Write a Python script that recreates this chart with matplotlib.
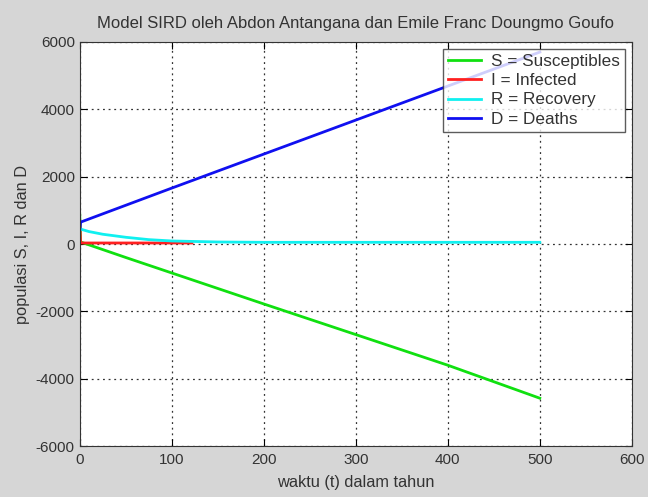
import matplotlib
matplotlib.use("Agg")
import matplotlib.pyplot as plt

plt.rcParams['font.family'] = ['Liberation Sans', 'DejaVu Sans']
plt.rcParams['axes.unicode_minus'] = False

# data
t_S = [0, 1, 50, 100, 200, 300, 400, 500]
S = [900, 60, -400, -860, -1780, -2690, -3600, -4580]

t_I = [0, 1, 122]
I = [700, 30, 30]

t_R = [0, 10, 25, 50, 75, 100, 150, 200, 500]
R = [450, 370, 290, 200, 130, 90, 60, 50, 50]

t_D = [0, 1, 100, 200, 300, 400, 500]
D = [400, 650, 1660, 2670, 3680, 4690, 5700]

labels = ["S = Susceptibles", "I = Infected", "R = Recovery", "D = Deaths"]
colors = ["#10e010", "#ff2020", "#10f0f0", "#1010f0"]

xticks = [0, 100, 200, 300, 400, 500, 600]
yticks = [-6000, -4000, -2000, 0, 2000, 4000, 6000]

fig = plt.figure(figsize=(6.48, 4.97), dpi=100, facecolor="#d6d6d6")
ax = fig.add_axes([0.123, 0.1026, 0.852, 0.8129])
ax.set_facecolor("white")

for tt, vv, lab, c in zip([t_S, t_I, t_R, t_D], [S, I, R, D], labels, colors):
    ax.plot(tt, vv, color=c, lw=2, label=lab)

ax.set_xlim(0, 600)
ax.set_ylim(-6000, 6000)
ax.set_xticks(xticks)
ax.set_yticks(yticks)
ax.tick_params(direction="in", top=True, right=True, labelsize=11, length=5, colors="black")
ax.tick_params(axis="x", pad=5)
for lbl in ax.get_xticklabels() + ax.get_yticklabels():
    lbl.set_color("#333333")
ax.grid(True, linestyle=(0, (1.5, 3)), color="#333333", lw=0.9)
for s in ax.spines.values():
    s.set_color("#333333")

ax.set_title("Model SIRD oleh Abdon Antangana dan Emile Franc Doungmo Goufo", fontsize=12, color="#333333", pad=10)
ax.set_xlabel("waktu (t) dalam tahun", fontsize=11.8, color="#333333", labelpad=6)
ax.set_ylabel("populasi S, I, R dan D", fontsize=11.8, color="#333333", labelpad=4)

leg = ax.legend(loc="upper right", fontsize=12.3, frameon=True, fancybox=False, borderaxespad=0.4,
                handlelength=1.9, labelspacing=0.25, borderpad=0.3, handletextpad=0.6)
leg.get_frame().set_edgecolor("#333333")
leg.get_frame().set_linewidth(1.0)
for txt in leg.get_texts():
    txt.set_color("#333333")

fig.savefig("out.png", dpi=100, facecolor=fig.get_facecolor())
